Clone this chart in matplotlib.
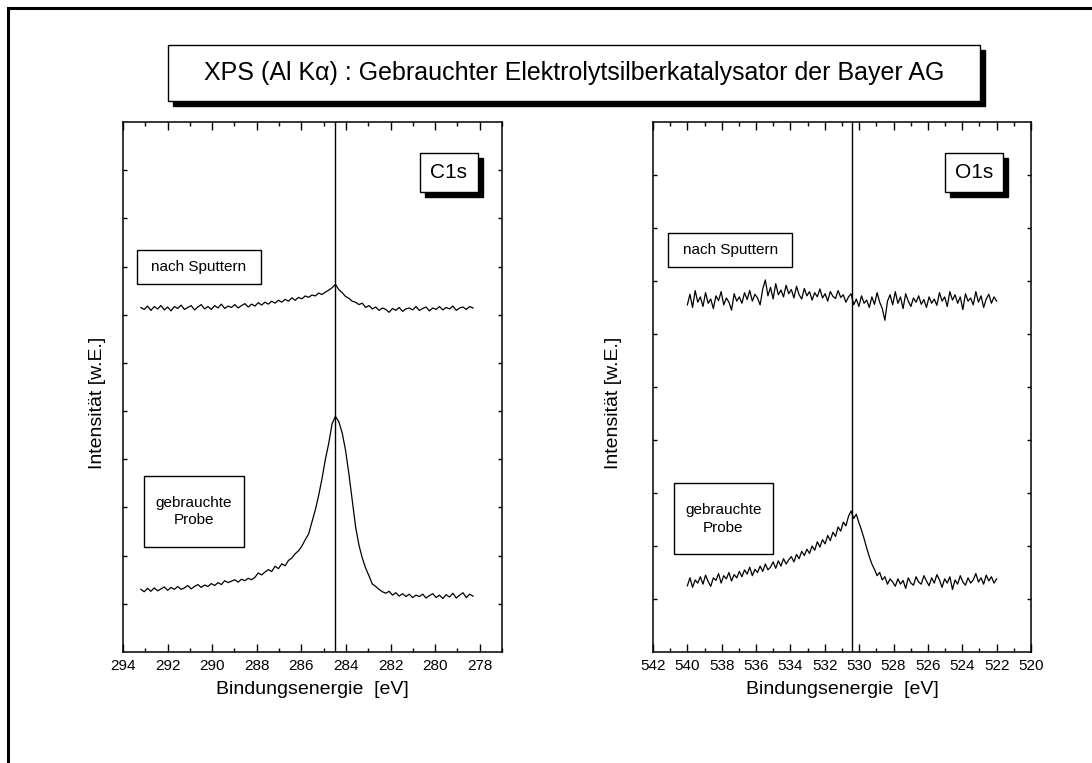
import numpy as np
import matplotlib.pyplot as plt
from matplotlib.patches import Rectangle
from matplotlib.transforms import offset_copy

plt.rcParams['font.family'] = ['Liberation Sans', 'DejaVu Sans']

# C1s region, energy grid and counts (arbitrary units)
c1s_e = np.linspace(293.2, 278.3, 100)
c1s_sputter = [
    7.15, 7.11, 7.18, 7.09, 7.17, 7.12, 7.19, 7.10, 7.16, 7.08,
    7.17, 7.13, 7.20, 7.11, 7.15, 7.19, 7.10, 7.16, 7.21, 7.12,
    7.17, 7.11, 7.19, 7.14, 7.22, 7.13, 7.18, 7.15, 7.21, 7.14,
    7.19, 7.23, 7.16, 7.22, 7.18, 7.25, 7.20, 7.26, 7.22, 7.28,
    7.24, 7.30, 7.26, 7.32, 7.28, 7.35, 7.30, 7.36, 7.33, 7.39,
    7.36, 7.41, 7.39, 7.45, 7.42, 7.47, 7.51, 7.56, 7.63, 7.52,
    7.46, 7.38, 7.34, 7.28, 7.26, 7.21, 7.24, 7.15, 7.19, 7.12,
    7.16, 7.09, 7.14, 7.11, 7.05, 7.13, 7.09, 7.15, 7.07, 7.12,
    7.14, 7.10, 7.17, 7.09, 7.13, 7.16, 7.08, 7.14, 7.11, 7.17,
    7.10, 7.15, 7.12, 7.18, 7.09, 7.14, 7.16, 7.11, 7.17, 7.14]
c1s_used = [
    1.30, 1.25, 1.32, 1.26, 1.33, 1.27, 1.31, 1.35, 1.28, 1.34,
    1.30, 1.36, 1.30, 1.33, 1.38, 1.31, 1.36, 1.40, 1.34, 1.39,
    1.36, 1.42, 1.38, 1.44, 1.40, 1.48, 1.44, 1.47, 1.50, 1.45,
    1.51, 1.48, 1.53, 1.50, 1.55, 1.64, 1.60, 1.66, 1.71, 1.67,
    1.78, 1.73, 1.83, 1.79, 1.90, 1.95, 2.04, 2.10, 2.20, 2.33,
    2.45, 2.70, 2.95, 3.25, 3.60, 4.00, 4.33, 4.74, 4.89, 4.78,
    4.55, 4.19, 3.70, 3.15, 2.60, 2.22, 1.95, 1.74, 1.58, 1.41,
    1.36, 1.30, 1.25, 1.22, 1.26, 1.18, 1.23, 1.16, 1.21, 1.15,
    1.20, 1.13, 1.18, 1.15, 1.20, 1.12, 1.17, 1.21, 1.13, 1.18,
    1.11, 1.19, 1.14, 1.22, 1.12, 1.18, 1.23, 1.13, 1.20, 1.16]

# O1s region
o1s_e = np.linspace(540.0, 522.0, 120)
o1s_sputter = [
    6.55, 6.75, 6.50, 6.82, 6.60, 6.70, 6.52, 6.78, 6.58, 6.66,
    6.48, 6.72, 6.63, 6.80, 6.55, 6.68, 6.60, 6.45, 6.76, 6.62,
    6.70, 6.58, 6.78, 6.65, 6.82, 6.62, 6.75, 6.68, 6.55, 6.85,
    7.02, 6.72, 6.88, 6.66, 6.95, 6.74, 6.83, 6.70, 6.92, 6.76,
    6.84, 6.68, 6.90, 6.74, 6.66, 6.86, 6.72, 6.80, 6.64, 6.78,
    6.70, 6.85, 6.68, 6.76, 6.62, 6.80, 6.71, 6.67, 6.82, 6.69,
    6.74, 6.60, 6.70, 6.76, 6.55, 6.66, 6.52, 6.72, 6.58, 6.64,
    6.50, 6.70, 6.56, 6.78, 6.60, 6.48, 6.26, 6.62, 6.74, 6.55,
    6.80, 6.58, 6.70, 6.48, 6.76, 6.62, 6.52, 6.68, 6.60, 6.72,
    6.56, 6.65, 6.50, 6.70, 6.58, 6.66, 6.54, 6.78, 6.62, 6.70,
    6.52, 6.80, 6.64, 6.74, 6.58, 6.70, 6.46, 6.76, 6.62, 6.68,
    6.55, 6.80, 6.60, 6.72, 6.50, 6.66, 6.75, 6.58, 6.70, 6.62]
o1s_used = [
    1.25, 1.40, 1.22, 1.36, 1.30, 1.42, 1.28, 1.45, 1.33, 1.24,
    1.40, 1.35, 1.48, 1.30, 1.44, 1.38, 1.50, 1.34, 1.46, 1.40,
    1.52, 1.42, 1.55, 1.47, 1.60, 1.44, 1.56, 1.50, 1.62, 1.52,
    1.66, 1.55, 1.60, 1.70, 1.58, 1.72, 1.62, 1.76, 1.66, 1.74,
    1.80, 1.70, 1.84, 1.76, 1.90, 1.82, 1.94, 1.86, 2.00, 1.92,
    2.08, 1.98, 2.12, 2.04, 2.20, 2.10, 2.26, 2.18, 2.36, 2.28,
    2.45, 2.38, 2.56, 2.66, 2.52, 2.60, 2.44, 2.30, 2.14, 1.96,
    1.80, 1.66, 1.56, 1.44, 1.50, 1.36, 1.42, 1.28, 1.38, 1.32,
    1.24, 1.38, 1.28, 1.35, 1.20, 1.40, 1.30, 1.26, 1.42, 1.32,
    1.28, 1.44, 1.34, 1.25, 1.40, 1.30, 1.46, 1.36, 1.22, 1.38,
    1.30, 1.42, 1.18, 1.36, 1.28, 1.44, 1.32, 1.26, 1.40, 1.30,
    1.36, 1.48, 1.32, 1.40, 1.28, 1.45, 1.34, 1.42, 1.30, 1.38]

title = 'XPS (Al K\u03b1) : Gebrauchter Elektrolytsilberkatalysator der Bayer AG'

fig = plt.figure(figsize=(10.92, 7.63), dpi=100)

# outer frame (right and bottom run off the page)
fig.patches.append(Rectangle((8 / 1092, -0.1), 1.2, 1.1 - 8 / 763, transform=fig.transFigure,
                             fill=False, lw=2.2, ec='black', clip_on=False))


def shadow_box(ax_or_fig, trans, x0, y0, w, h, shadow=5):
    sh = offset_copy(trans, fig=fig, x=shadow, y=-shadow, units='dots')
    ax_or_fig.add_artist(Rectangle((x0, y0), w, h, transform=sh, fc='black', ec='black', lw=1, zorder=4))
    ax_or_fig.add_artist(Rectangle((x0, y0), w, h, transform=trans, fc='white', ec='black', lw=1, zorder=5))


def plain_box(ax, x0, y0, w, h, txt):
    ax.add_patch(Rectangle((x0, y0), w, h, transform=ax.transAxes, fc='white', ec='black', lw=1, zorder=5))
    ax.text(x0 + w / 2, y0 + h / 2, txt, transform=ax.transAxes, ha='center', va='center',
            fontsize=11, zorder=6, linespacing=1.3)


# title box
shadow_box(fig, fig.transFigure, 168 / 1092, 1 - 101 / 763, 812 / 1092, 56 / 763)
fig.text(574 / 1092, 1 - 73 / 763, title, ha='center', va='center', fontsize=18, zorder=6)

panels = [
    dict(rect=[123 / 1092, 1 - 652 / 763, 379 / 1092, 530 / 763], xlim=(294, 277), ylim=(0, 11),
         major=np.arange(278, 295, 2), minor=np.arange(277, 295, 1),
         e=c1s_e, top=c1s_sputter, bot=c1s_used, vline=284.5, tag='C1s',
         tagbox=(0.784, 0.867, 0.152, 0.074), sbox=(0.037, 0.694, 0.327, 0.064),
         pbox=(0.055, 0.199, 0.264, 0.133), ylx=98),
    dict(rect=[653 / 1092, 1 - 652 / 763, 378 / 1092, 530 / 763], xlim=(542, 520), ylim=(0, 10),
         major=np.arange(520, 543, 2), minor=np.arange(520, 543, 1),
         e=o1s_e, top=o1s_sputter, bot=o1s_used, vline=530.4, tag='O1s',
         tagbox=(0.772, 0.868, 0.153, 0.074), sbox=(0.041, 0.727, 0.327, 0.063),
         pbox=(0.055, 0.184, 0.262, 0.134), ylx=614),
]

for p in panels:
    ax = fig.add_axes(p['rect'])
    ax.plot(p['e'], p['top'], color='black', lw=0.9)
    ax.plot(p['e'], p['bot'], color='black', lw=0.9)
    ax.axvline(p['vline'], color='black', lw=1)
    ax.set_xlim(*p['xlim'])
    ax.set_ylim(*p['ylim'])
    ax.set_xticks(p['major'])
    ax.set_xticks(p['minor'], minor=True)
    ax.set_yticks(np.arange(1, p['ylim'][1]))
    ax.set_yticklabels([])
    ax.tick_params(axis='x', which='major', direction='in', length=6, width=1,
                   top=True, labelsize=11, pad=5)
    ax.tick_params(axis='x', which='minor', direction='in', length=3, width=1, top=True)
    ax.tick_params(axis='y', direction='in', length=3, width=1, right=True)
    for s in ax.spines.values():
        s.set_linewidth(1.1)
    ax.set_xlabel('Bindungsenergie  [eV]', fontsize=14, labelpad=6)
    # y label placed by pixel
    ax.text((p['ylx'] - p['rect'][0] * 1092) / (p['rect'][2] * 1092), 0.47, 'Intensit\u00e4t [w.E.]',
            transform=ax.transAxes, rotation=90, ha='center', va='center', fontsize=14)
    x0, y0, w, h = p['tagbox']
    shadow_box(ax, ax.transAxes, x0, y0, w, h)
    ax.text(x0 + w / 2, y0 + h / 2, p['tag'], transform=ax.transAxes, ha='center', va='center',
            fontsize=15, zorder=6)
    plain_box(ax, *p['sbox'], 'nach Sputtern')
    plain_box(ax, *p['pbox'], 'gebrauchte\nProbe')

fig.savefig('out.png', dpi=100)
